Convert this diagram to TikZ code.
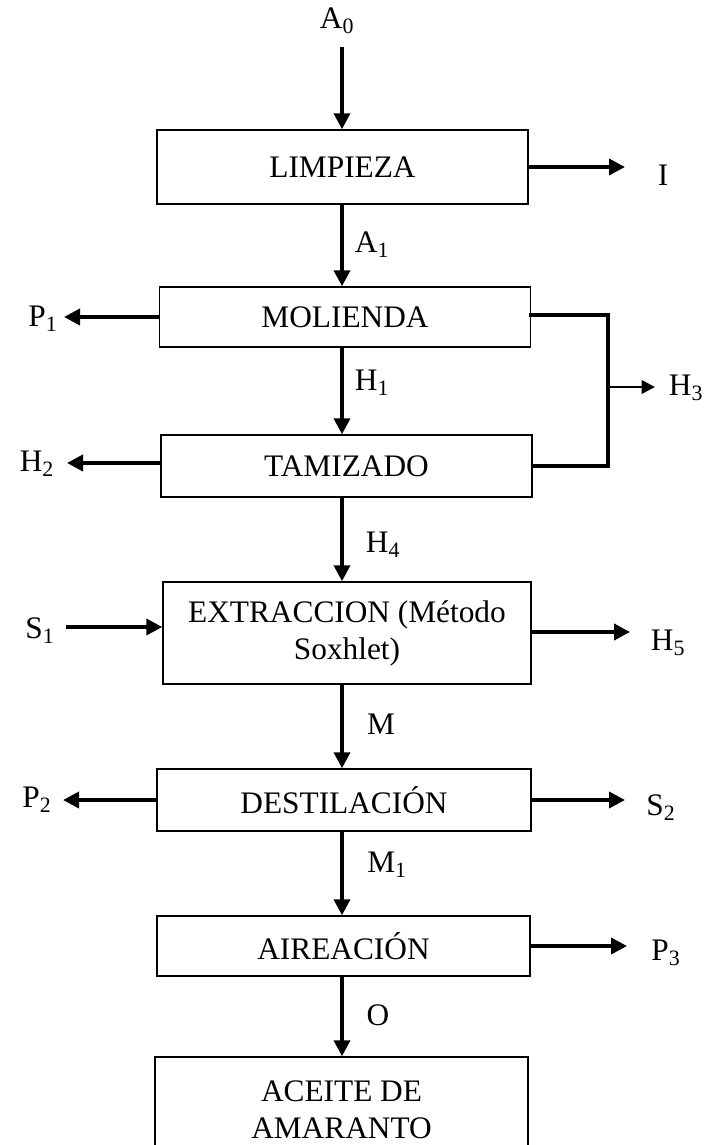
\documentclass[tikz,border=0pt]{standalone}
\usepackage{fontspec}
\setmainfont{Liberation Serif}
\usetikzlibrary{arrows.meta}
\begin{document}
\begin{tikzpicture}[x=0.75pt,y=-0.75pt,
  every node/.style={font=\fontsize{23.5pt}{27.75pt}\selectfont, inner sep=0pt},
  box/.style={draw, line width=1.1pt, align=center, minimum width=278pt},
  flow/.style={line width=2.8pt, -{Triangle[length=12pt,width=12pt]}},
  thinflow/.style={line width=2pt, -{Triangle[length=10pt,width=10pt]}},
  rail/.style={line width=2.8pt, line cap=rect}]
\useasboundingbox (0,0) rectangle (709,1145);
\clip (0,0) rectangle (709,1145);

% vertical axis of the main flow
\coordinate (axis) at (342,0);

% process boxes
\node[box, minimum height=55.5pt] (limp) at (342.5,167) {LIMPIEZA};
\node[box, minimum height=45pt]   (mol)  at (345,317)   {MOLIENDA};
\node[box, minimum height=46.5pt] (tam)  at (346.5,466) {TAMIZADO};
\node[box, minimum height=76.5pt, minimum width=276pt] (ext) at (347,633)
  {EXTRACCION (Método\\Soxhlet)};
\node[box, minimum height=46.5pt, minimum width=280.5pt] (dest) at (344,800) {DESTILACIÓN};
\node[box, minimum height=45pt, minimum width=279.75pt] (air) at (343.5,946) {AIREACIÓN};
\node[box, minimum height=79.5pt, minimum width=279.75pt] (ace) at (341.5,1110)
  {ACEITE DE\\AMARANTO};

% stream labels
\node (a0) at (337,21)  {A\textsubscript{0}};
\node (i)  at (663,175) {I};
\node (a1) at (372,245) {A\textsubscript{1}};
\node (p1) at (43,319)  {P\textsubscript{1}};
\node (h1) at (372,383) {H\textsubscript{1}};
\node (h3) at (686,388) {H\textsubscript{3}};
\node (h2) at (37,464)  {H\textsubscript{2}};
\node (h4) at (383,545) {H\textsubscript{4}};
\node (s1) at (40,631)  {S\textsubscript{1}};
\node (h5) at (668,643) {H\textsubscript{5}};
\node (m)  at (381,724) {M};
\node (p2) at (37,800)  {P\textsubscript{2}};
\node (s2) at (661,808) {S\textsubscript{2}};
\node (m1) at (387,865) {M\textsubscript{1}};
\node (p3) at (666,953) {P\textsubscript{3}};
\node (o)  at (378,1015) {O};

% free ends of the streams
\coordinate (a0s) at (342,47);
\coordinate (it)  at (625,167);
\coordinate (p1t) at (64,317);
\coordinate (h2t) at (67,463);
\coordinate (s1s) at (66,627);
\coordinate (h5t) at (630,632);
\coordinate (p2t) at (63,800);
\coordinate (s2t) at (625,800);
\coordinate (p3t) at (627,946);
\coordinate (rtop) at (608,315);
\coordinate (rbot) at (608,466);
\coordinate (rmid) at (608,387);
\coordinate (h3t) at (655,387);

% main flow
\draw[flow] (a0s) -- (limp.north -| axis);
\draw[flow] (limp.south -| axis) -- (mol.north -| axis);
\draw[flow] (mol.south -| axis) -- (tam.north -| axis);
\draw[flow] (tam.south -| axis) -- (ext.north -| axis);
\draw[flow] (ext.south -| axis) -- (dest.north -| axis);
\draw[flow] (dest.south -| axis) -- (air.north -| axis);
\draw[flow] (air.south -| axis) -- (ace.north -| axis);

% side streams
\draw[flow] (limp.east |- it) -- (it);
\draw[flow] (mol.west |- p1t) -- (p1t);
\draw[flow] (tam.west |- h2t) -- (h2t);
\draw[flow] (s1s) -- (ext.west |- s1s);
\draw[flow] (ext.east |- h5t) -- (h5t);
\draw[flow] (dest.west |- p2t) -- (p2t);
\draw[flow] (dest.east |- s2t) -- (s2t);
\draw[flow] (air.east |- p3t) -- (p3t);

% combined stream from milling and sieving
\draw[rail] (mol.east |- rtop) -- (rtop) -- (rbot) -- (tam.east |- rbot);
\draw[thinflow] (rmid) -- (h3t);
\end{tikzpicture}
\end{document}
